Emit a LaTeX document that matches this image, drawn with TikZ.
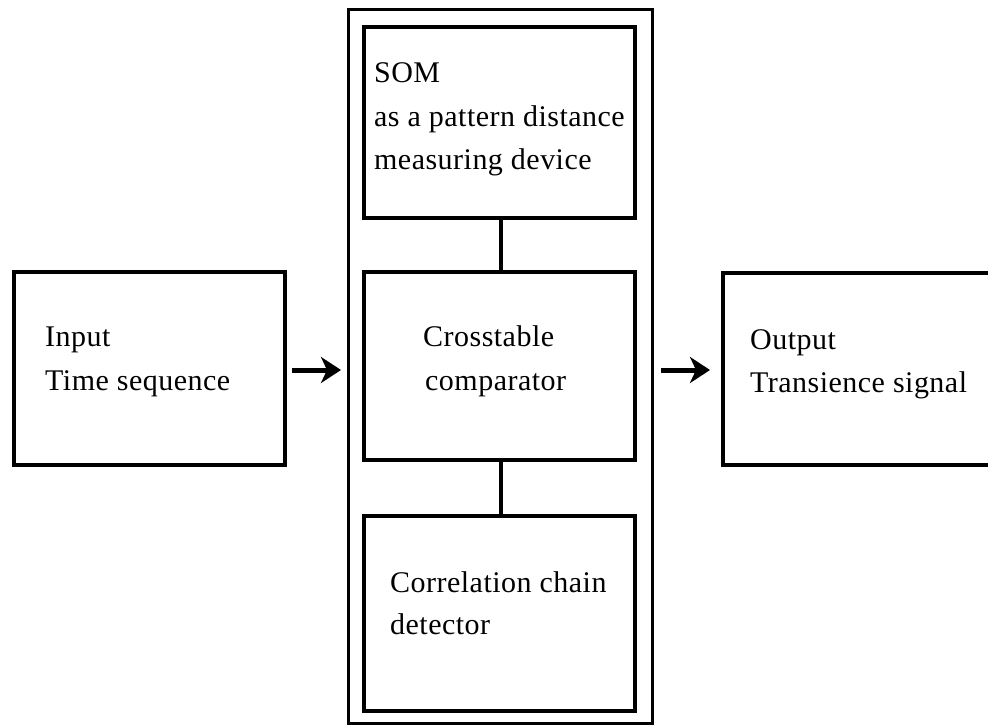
\documentclass[tikz,border=0pt]{standalone}
\usepackage{fontspec}
\setmainfont[LetterSpace=1.6]{Liberation Serif}
\usetikzlibrary{arrows.meta}
\tikzset{
  box/.style={draw, line width=4.5pt, outer sep=0pt, inner sep=0pt, anchor=north west},
  frame/.style={draw, line width=3pt, outer sep=0pt, inner sep=0pt, anchor=north west},
  label/.style={anchor=base west, inner sep=0pt, font=\fontsize{30}{43}\selectfont},
  link/.style={line width=4pt},
  flow/.style={line width=5pt, -{Stealth[length=20pt, width=26pt, inset=6pt]}}
}
\begin{document}
\begin{tikzpicture}[x=1pt, y=-1pt]
\useasboundingbox (0,0) rectangle (988,727);
\begin{scope}
\clip (0,0) rectangle (988,727);
% outer frame of the processing stage
\node[frame, minimum width=304pt, minimum height=713pt] (outer) at (348,10) {};
% processing blocks
\node[box, minimum width=271pt, minimum height=191pt] (som) at (364,27) {};
\node[box, minimum width=271pt, minimum height=188pt] (cross) at (364,272) {};
\node[box, minimum width=271pt, minimum height=195pt] (corr) at (364,516) {};
% input and output blocks
\node[box, minimum width=271pt, minimum height=193pt] (inp) at (14,272) {};
\node[box, minimum width=290pt, minimum height=192pt] (outp) at (723,273) {};
\end{scope}
% texts
\node[label] (t1) at (45,347) {Input};
\node[label] (t2) at (45,390) {Time sequence};
\node[label] (t3) at (374,83) {SOM};
\node[label] (t4) at (374,127) {as a pattern distance};
\node[label] (t5) at (374,170) {measuring device};
\node[label] (t6) at (423,346) {Crosstable};
\node[label] (t7) at (425,390) {comparator};
\node[label] (t8) at (390,592) {Correlation chain};
\node[label] (t9) at (390,634) {detector};
\node[label] (t10) at (750,349) {Output};
\node[label] (t11) at (750,392) {Transience signal};
% connectors
\draw[link] (som.south -| 501,0) -- (cross.north -| 501,0);
\draw[link] (cross.south -| 501,0) -- (corr.north -| 501,0);
\draw[flow, shorten <=7pt, shorten >=7pt] ([yshift=-1.5pt]inp.east) -- ([yshift=-1.5pt]inp.east -| outer.west);
\draw[flow, shorten <=9pt, shorten >=13pt] ([yshift=-1.5pt]inp.east -| outer.east) -- ([yshift=-1.5pt]inp.east -| outp.west);
\end{tikzpicture}
\end{document}
